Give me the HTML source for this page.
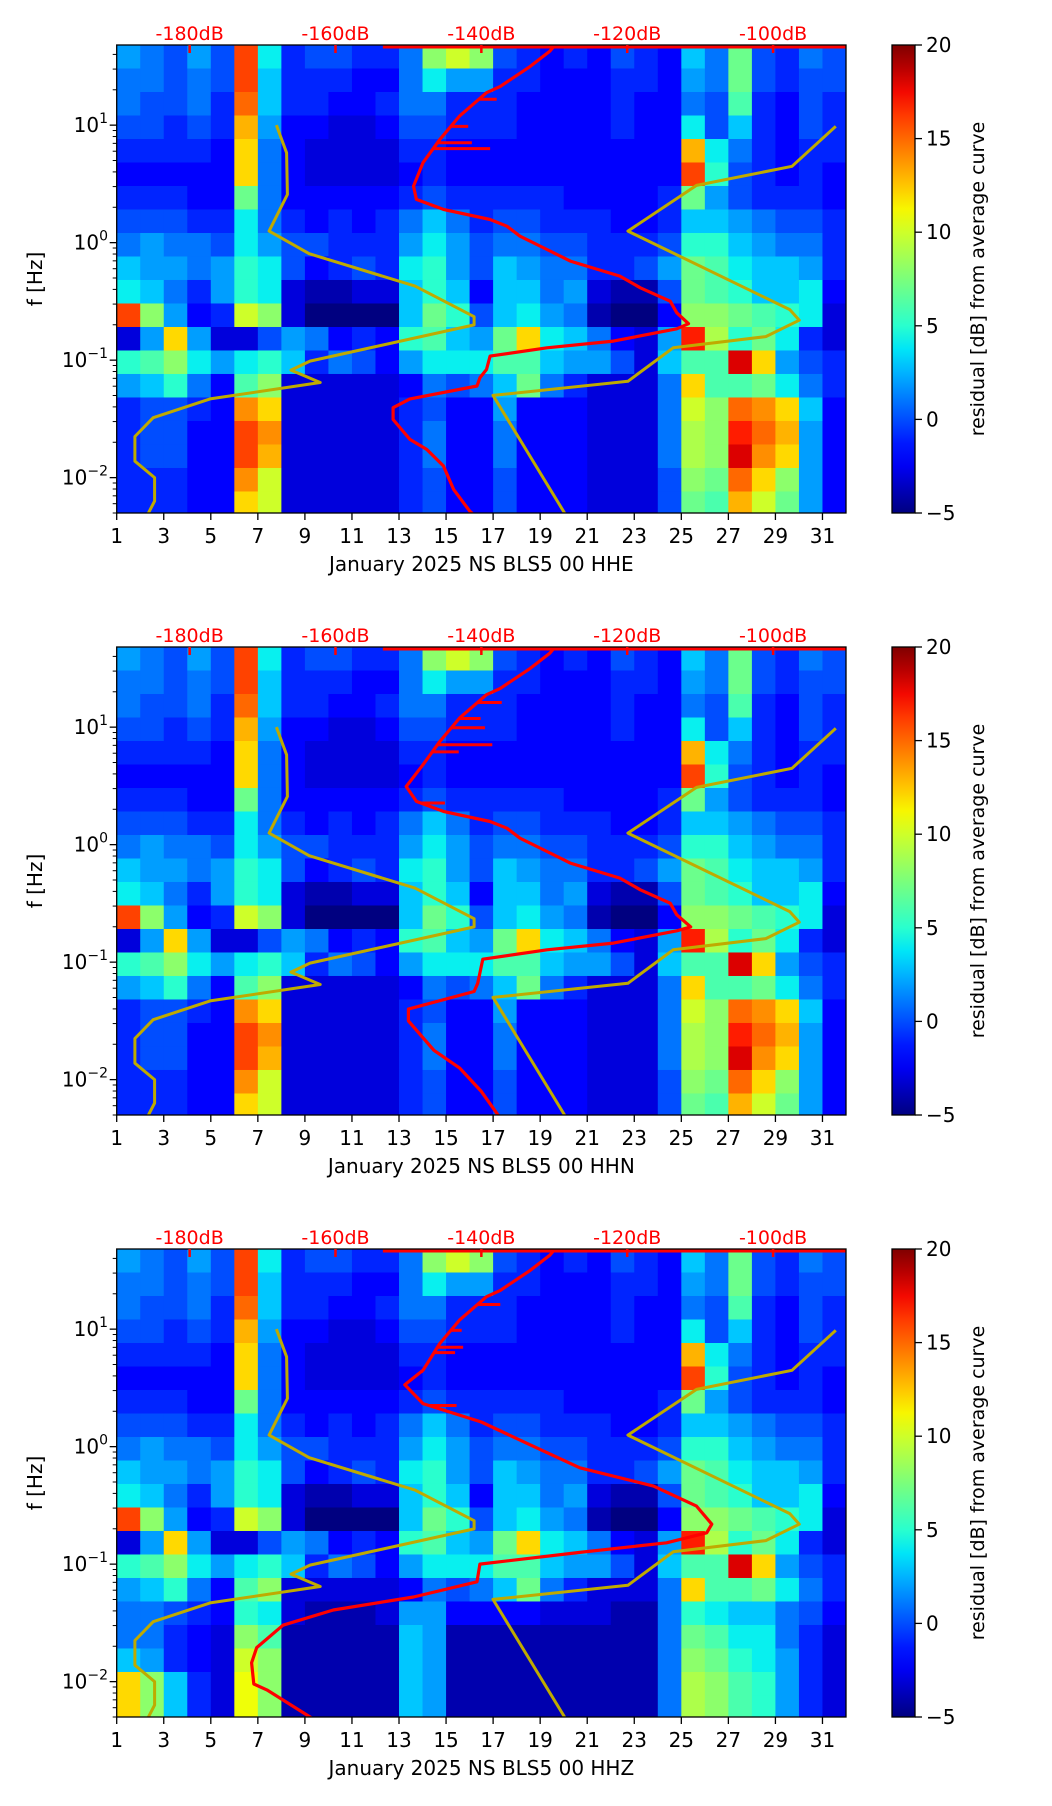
<!DOCTYPE html>
<html><head><meta charset="utf-8"><style>
body{margin:0;background:#fff}
svg{display:block;font-family:"DejaVu Sans","Liberation Sans",sans-serif}
</style></head><body>
<svg id="fig" width="1052" height="1806" viewBox="0 0 1052 1806" xmlns="http://www.w3.org/2000/svg"></svg>
<script>
// ---------- data ----------
const dayTicks=[1,3,5,7,9,11,13,15,17,19,21,23,25,27,29,31];
const dbTicks=[-180,-160,-140,-120,-100];
const freqTickExps=[1,0,-1,-2];
const cbTicks=[-5,0,5,10,15,20];
const panelLabels=["January 2025 NS BLS5 00 HHE","January 2025 NS BLS5 00 HHN","January 2025 NS BLS5 00 HHZ"];
// residual grid: rows = 0.2-decade bands from top (48 Hz) downward, cols = days 1..31
const gridBase=[
[2,1,0,2,0,16,4,-1,0,0,-1,-1,1,8,10,8,0,-1,-2,-1,-2,0,-1,-2,3,1,7,0,-1,1,0],
[1,1,0,1,0,16,3,-1,-1,-1,-2,-2,1,4,2,2,-1,-1,-2,-2,-2,-1,-1,-2,2,1,7,0,-1,0,0],
[1,0,0,1,-1,15,3,-1,-1,-2,-2,-1,1,1,-1,-1,-1,-2,-2,-2,-2,-1,-2,-2,1,0,6,-1,-2,0,-1],
[0,0,-1,0,-1,13,2,-2,-2,-3,-3,-2,0,0,-1,-1,-1,-2,-2,-2,-2,-1,-2,-2,4,0,3,-1,-2,0,-1],
[-1,-1,-1,-1,-2,12,1,-2,-3,-3,-3,-3,-1,-1,-2,-2,-2,-2,-2,-2,-2,-2,-2,-2,13,4,1,-1,-2,-1,-1],
[-2,-2,-2,-2,-2,12,1,-2,-3,-3,-3,-3,-2,-1,-2,-2,-2,-2,-2,-2,-2,-2,-2,-2,16,5,0,-1,-2,-1,-2],
[-1,-1,-1,-2,-2,7,1,-2,-2,-2,-2,-2,-1,0,-1,-1,-1,-1,-1,-2,-2,-2,-2,-1,7,2,0,-1,-1,-1,-2],
[0,0,0,-1,-1,4,1,-1,-2,-1,-2,-1,1,3,1,-1,0,0,-1,-1,-1,-2,-2,-1,3,3,2,1,0,0,-1],
[1,2,1,1,0,4,2,0,0,-1,-1,-1,2,4,2,0,1,1,0,0,-1,-1,-1,0,5,5,3,2,1,1,-1],
[3,2,2,1,2,5,4,0,-2,-1,0,-1,4,5,2,0,3,2,1,1,-1,-1,0,2,7,6,4,3,3,2,-1],
[4,3,1,-1,2,5,4,-3,-4,-4,-3,-3,3,5,3,-2,3,3,1,2,-3,-4,-4,0,7,6,5,3,3,4,-2],
[16,8,2,-2,-1,10,8,-3,-5,-5,-5,-5,3,7,5,0,3,4,2,1,-4,-5,-5,-2,8,8,7,6,5,4,-3],
[-3,2,12,2,-3,-3,0,2,1,-2,-1,-2,5,6,3,2,7,12,4,3,1,-2,-3,2,17,9,5,7,4,-1,-3],
[5,6,8,4,2,4,5,3,-1,1,0,-2,2,4,4,4,6,6,3,2,2,0,-3,3,6,6,18,12,2,0,-1],
[2,3,5,1,-2,6,8,-3,-3,-3,-3,-3,-2,1,0,1,3,7,1,-1,-3,-3,-3,1,12,6,6,7,4,1,-1],
[-1,0,0,-1,-2,14,12,-3,-3,-3,-3,-3,-1,0,-2,-2,2,-2,-2,-2,-3,-3,-3,1,10,8,15,14,12,3,-2],
[-1,0,0,-2,-2,16,14,-3,-3,-3,-3,-3,-1,1,-2,-2,1,-2,-2,-2,-3,-3,-3,1,9,8,17,15,13,2,-2],
[-1,0,0,-2,-2,16,13,-3,-3,-3,-3,-3,-1,1,-2,-2,1,-2,-2,-2,-3,-3,-3,1,9,8,18,14,12,2,-2],
[-1,-1,-1,-2,-2,14,10,-3,-3,-3,-3,-3,-1,0,-2,-2,0,-2,-2,-2,-3,-3,-3,0,8,7,15,12,8,2,-2],
[-1,-1,-1,-2,-2,12,10,-3,-3,-3,-3,-3,-1,0,-2,-2,0,-2,-2,-2,-3,-3,-3,0,7,6,13,10,7,2,-2]];
const gridZLow=[
[1,1,0,-1,-2,5,4,-3,-4,-4,-4,-3,2,2,-2,-2,-2,-2,-3,-3,-3,-4,-4,1,5,4,3,3,1,0,-2],
[1,1,-1,-2,-3,8,6,-4,-4,-4,-4,-4,3,2,-4,-4,-4,-4,-4,-4,-4,-4,-4,1,7,6,4,4,1,-1,-3],
[3,2,-1,-2,-3,10,8,-4,-4,-4,-4,-4,3,2,-4,-4,-4,-4,-4,-4,-4,-4,-4,1,8,7,5,4,2,-1,-3],
[12,8,3,-1,-3,11,8,-4,-4,-4,-4,-4,3,2,-4,-4,-4,-4,-4,-4,-4,-4,-4,1,9,8,6,5,2,-1,-3],
[12,8,3,-1,-3,11,8,-4,-4,-4,-4,-4,3,2,-4,-4,-4,-4,-4,-4,-4,-4,-4,1,9,8,6,5,2,-1,-3]];
// noise models (dB, log10 f)
const nlnmDb=[-168.1,-166.7,-166.6,-169.1,-163.6,-149.1,-141.0,-141.0,-163.5,-166.1,-162.1,-177.2,-185.0,-187.5,-187.5,-184.8,-184.8,-185.8];
const nlnmLogF=[1.0,0.765,0.41,0.098,-0.094,-0.37,-0.63,-0.70,-1.008,-1.085,-1.19,-1.33,-1.49,-1.65,-1.86,-2.0,-2.2,-2.32];
const nhnmDb=[-91.4,-97.4,-110.5,-119.9,-97.7,-96.4,-101.0,-113.7,-119.9,-138.4,-128.4];
const nhnmLogF=[0.99,0.65,0.487,0.098,-0.57,-0.66,-0.80,-0.895,-1.18,-1.30,-2.32];
// average PSD curves
const red1Db=[-130.0,-130.6,-133.3,-137.4,-139.3,-143.0,-145.7,-148.0,-149.3,-148.9,-145.2,-138.8,-136.5,-134.7,-131.0,-127.8,-121.0,-118.2,-114.1,-113.2,-111.6,-113.2,-121.9,-131.0,-138.8,-139.3,-140.2,-140.6,-149.8,-152.1,-152.1,-149.8,-147.5,-145.2,-143.8,-141.6,-141.0];
const red1LogF=[1.675,1.63,1.50,1.33,1.276,1.077,0.878,0.68,0.48,0.368,0.283,0.197,0.14,0.055,-0.058,-0.157,-0.285,-0.384,-0.498,-0.597,-0.69,-0.733,-0.838,-0.895,-0.966,-1.08,-1.15,-1.22,-1.33,-1.405,-1.505,-1.675,-1.76,-1.90,-2.10,-2.285,-2.32];
const red2Db=[-130.0,-130.6,-133.3,-137.4,-139.3,-143.0,-145.7,-148.0,-150.3,-148.9,-145.2,-138.8,-136.5,-134.7,-131.0,-127.8,-121.0,-118.2,-114.1,-113.2,-111.3,-113.2,-121.9,-131.0,-139.8,-140.5,-141.0,-150.0,-150.0,-146.5,-143.0,-140.0,-137.5];
const red2LogF=[1.675,1.63,1.50,1.33,1.276,1.077,0.878,0.68,0.495,0.368,0.283,0.197,0.14,0.055,-0.058,-0.157,-0.285,-0.384,-0.498,-0.597,-0.70,-0.733,-0.838,-0.895,-0.975,-1.18,-1.25,-1.40,-1.50,-1.75,-1.90,-2.10,-2.32];
const red3Db=[-130.0,-130.6,-133.3,-137.4,-139.3,-143.0,-145.7,-148.0,-150.5,-148.0,-140.0,-132.9,-126.5,-116.4,-110.5,-108.4,-109.1,-114.6,-126.5,-140.2,-140.6,-149.3,-160.3,-167.2,-170.8,-171.5,-171.2,-169.4,-163.0];
const red3LogF=[1.675,1.63,1.50,1.33,1.276,1.077,0.878,0.65,0.526,0.366,0.21,0.004,-0.18,-0.336,-0.506,-0.66,-0.733,-0.818,-0.90,-1.0,-1.15,-1.28,-1.39,-1.52,-1.71,-1.84,-2.02,-2.07,-2.32];
const spike1LogF=[1.22,0.99,0.85,0.80];
const spike1Db=[-137.9,-141.8,-141.3,-138.8];
const spike2LogF=[1.21,1.074,0.995,0.85,0.79,0.354];
const spike2Db=[-137.2,-140.1,-139.5,-138.5,-143.1,-145.0];
const spike3LogF=[1.21,0.99,0.846,0.80,0.64,0.35];
const spike3Db=[-137.4,-142.7,-142.5,-143.6,-148.0,-143.4];

// ---------- layout ----------
const L=116.7,R=846,H=468,TOPS=[45,647,1249];
const LOGMAX=Math.log10(48.1),LOGMIN=Math.log10(0.005);
const DAY0=1,DAY1=32,DB0=-190,DB1=-90,V0=-5,V1=20;
const CBX=892,CBW=23;
const NS="http://www.w3.org/2000/svg";
const fig=document.getElementById('fig');
function el(tag,attrs,parent){const e=document.createElementNS(NS,tag);for(const k in attrs)e.setAttribute(k,attrs[k]);(parent||fig).appendChild(e);return e;}
function xDay(d){return L+(d-DAY0)/(DAY1-DAY0)*(R-L);}
function xDb(db){return L+(db-DB0)/(DB1-DB0)*(R-L);}
function yLog(top,lf){return top+(LOGMAX-lf)/(LOGMAX-LOGMIN)*H;}
function interp(a,b,t){return a+(b-a)*t;}
function jetC(v){let t=(v-V0)/(V1-V0);t=Math.max(0,Math.min(1,t));
 function seg(pts){for(let i=1;i<pts.length;i++){if(t<=pts[i][0]){const p=pts[i-1],q=pts[i];return interp(p[1],q[1],(t-p[0])/(q[0]-p[0]));}}return pts[pts.length-1][1];}
 const r=seg([[0,0],[0.35,0],[0.66,1],[0.89,1],[1,0.5]]),g=seg([[0,0],[0.125,0],[0.375,1],[0.64,1],[0.91,0],[1,0]]),b=seg([[0,0.5],[0.11,1],[0.34,1],[0.65,0],[1,0]]);
 return `rgb(${Math.round(r*255)},${Math.round(g*255)},${Math.round(b*255)})`;}

const defs=el('defs',{});
const grad=el('linearGradient',{id:'jet',x1:0,y1:1,x2:0,y2:0},defs);
for(let i=0;i<=20;i++){el('stop',{offset:(i/20),'stop-color':jetC(V0+(V1-V0)*i/20)},grad);}

function ptsFrom(top,dbs,lfs){return dbs.map((d,i)=>xDb(d).toFixed(1)+','+yLog(top,lfs[i]).toFixed(1)).join(' ');}

function drawPanel(p,grid,redDb,redLf,spLf,spDb){
 const top=TOPS[p],bot=top+H;
 const g=el('g',{});
 
 
 const cp=el('clipPath',{id:'clip'+p},defs);el('rect',{x:L,y:top,width:R-L,height:H},cp);
 const hm=el('g',{'clip-path':`url(#clip${p})`},g);
 
 
 el('rect',{x:L,y:top,width:R-L,height:H,fill:jetC(-4)},hm);
 grid.forEach((row,r)=>{const y0=yLog(top,LOGMAX-0.2*r),y1=yLog(top,LOGMAX-0.2*(r+1));
  row.forEach((v,c)=>{const x0=xDay(c+1),x1=xDay(c+2);
   const cell=el('rect',{x:x0.toFixed(2),y:y0.toFixed(2),width:(x1-x0+0.6).toFixed(2),height:(y1-y0+0.6).toFixed(2),fill:jetC(v)},hm);
   
   
  });});
 const ln=el('polyline',{points:ptsFrom(top,nlnmDb,nlnmLogF),fill:'none',stroke:'#bfaa00','stroke-width':3,'stroke-linejoin':'round'},hm);
 
 
 const hn=el('polyline',{points:ptsFrom(top,nhnmDb,nhnmLogF),fill:'none',stroke:'#bfaa00','stroke-width':3,'stroke-linejoin':'round'},hm);
 
 
 const rl=el('polyline',{points:ptsFrom(top,redDb,redLf),fill:'none',stroke:'#ff0000','stroke-width':3.2,'stroke-linejoin':'round'},hm);
 
 
 const tl=el('line',{x1:xDb(-153.5),x2:R,y1:top+2,y2:top+2,stroke:'#ff0000','stroke-width':3},hm);
 
 
 spLf.forEach((lf,i)=>{let k=0;while(k<redLf.length-1&&redLf[k+1]>lf)k++;
  const t=(lf-redLf[k])/(redLf[k+1]-redLf[k]);const d0=interp(redDb[k],redDb[k+1],t);
  const s=el('line',{x1:xDb(d0),x2:xDb(spDb[i]),y1:yLog(top,lf),y2:yLog(top,lf),stroke:'#ff0000','stroke-width':3},hm);
  
  });
 el('rect',{x:L,y:top,width:R-L,height:H,fill:'none',stroke:'#000','stroke-width':1.3},g);
 dbTicks.forEach(db=>{const x=xDb(db);
  el('line',{x1:x,x2:x,y1:top,y2:top+8,stroke:'#ff0000','stroke-width':2.5},g);
  const t=el('text',{x:x,y:top-5,'text-anchor':'middle','font-size':19,fill:'#ff0000'},g);t.textContent=db+'dB';
  
  });
 dayTicks.forEach(d=>{const x=xDay(d);
  el('line',{x1:x,x2:x,y1:bot,y2:bot+7,stroke:'#000','stroke-width':1.3},g);
  const t=el('text',{x:x,y:bot+30,'text-anchor':'middle','font-size':20,fill:'#000'},g);t.textContent=d;
  
  });
 const xl=el('text',{x:(L+R)/2,y:bot+58,'text-anchor':'middle','font-size':20,fill:'#000'},g);xl.textContent=panelLabels[p];
 
 
 for(let e=-3;e<=1;e++){for(let m=1;m<10;m++){const lf=e+Math.log10(m);if(lf<LOGMIN||lf>LOGMAX)continue;const y=yLog(top,lf);
  el('line',{x1:L,x2:L-(m===1?7:4),y1:y,y2:y,stroke:'#000','stroke-width':m===1?1.3:1},g);}}
 freqTickExps.forEach(e=>{const y=yLog(top,e);
  const t=el('text',{x:108,y:y+7,'text-anchor':'end','font-size':20,fill:'#000'},g);
  
  
  const a=el('tspan',{},t);a.textContent='10';
  const b=el('tspan',{'font-size':14,dy:-9},t);b.textContent=(e<0?'\u2212':'')+Math.abs(e);});
 const yl=el('text',{x:0,y:0,transform:`translate(42,${top+H/2}) rotate(-90)`,'text-anchor':'middle','font-size':20,fill:'#000'},g);yl.textContent='f [Hz]';
 
 
 const cb=el('rect',{x:CBX,y:top,width:CBW,height:H,fill:'url(#jet)',stroke:'#000','stroke-width':1.3},g);
 
 
 cbTicks.forEach(v=>{const y=bot-(v-V0)/(V1-V0)*H;
  el('line',{x1:CBX+CBW,x2:CBX+CBW+7,y1:y,y2:y,stroke:'#000','stroke-width':1.3},g);
  const t=el('text',{x:CBX+CBW+11,y:y+7,'font-size':20,fill:'#000'},g);t.textContent=(v<0?'\u2212':'')+Math.abs(v);
  
  });
 const cl=el('text',{x:0,y:0,transform:`translate(984,${top+H/2}) rotate(-90)`,'text-anchor':'middle','font-size':19,fill:'#000'},g);cl.textContent='residual [dB] from average curve';
 
 
}
const grid3=gridBase.slice(0,15).concat(gridZLow);
drawPanel(0,gridBase,red1Db,red1LogF,spike1LogF,spike1Db);
drawPanel(1,gridBase,red2Db,red2LogF,spike2LogF,spike2Db);
drawPanel(2,grid3,red3Db,red3LogF,spike3LogF,spike3Db);
</script>
</body></html>
